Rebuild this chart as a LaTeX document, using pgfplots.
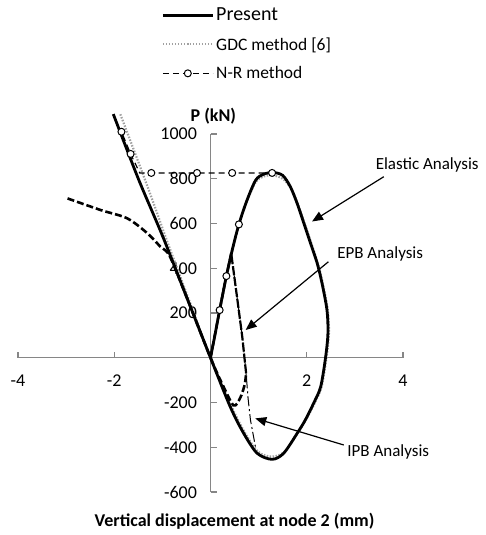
\documentclass[border=0pt]{standalone}
\usepackage{fontspec}
\setmainfont{Carlito}
\usepackage{pgfplots}
\pgfplotsset{compat=1.18}
\usetikzlibrary{arrows.meta}
\definecolor{axgray}{RGB}{134,134,134}
\definecolor{dotgray}{RGB}{160,160,160}
\begin{document}
\begin{tikzpicture}
\begin{axis}[
  scale only axis, width=385pt, height=358pt,
  xmin=-4, xmax=4, ymin=-600, ymax=1000,
  axis lines=middle,
  axis line style={-, draw=axgray, line width=1.2pt},
  xtick={-4,-2,0,2,4}, xticklabels={-4,-2,0,2,4},
  ytick={-600,-400,-200,0,200,400,600,800,1000},
  yticklabels={-600,-400,-200,0,200,400,600,800,1000},
  tick style={draw=axgray, line width=1.2pt},
  tick align=inside,
  major tick length=6pt,
  tick label style={font=\fontsize{18}{20}\selectfont, text=black},
  xticklabel style={yshift=-14pt},
  yticklabel style={xshift=-10pt},
  clip=false,
  legend style={draw=none, fill=none, inner sep=0pt, at={(0.372,1.358)}, anchor=north west,
    font=\fontsize{17.5}{20}\selectfont, row sep=11pt, nodes={inner sep=2pt}},
  legend cell align=left,
  legend image code/.code={\draw[mark repeat=2,mark phase=2,#1] plot coordinates {(0pt,0pt) (25pt,0pt) (50pt,0pt)};},
]
\coordinate (LL) at (rel axis cs:0,0);
\addlegendimage{black, line width=2.8pt}
\addlegendentry{\fontsize{20}{22}\selectfont Present}
\addlegendimage{dotgray, line width=2pt, dash pattern=on 1.5pt off 1.5pt}
\addlegendentry{GDC method [6]}
\addlegendimage{black, line width=1.2pt, dash pattern=on 6pt off 4pt, mark=*, mark size=3.5pt, mark options={solid, fill=white, draw=black, line width=1pt}}
\addlegendentry{N-R method}

% GDC method (dotted gray)
\addplot[forget plot, dotgray, line width=2.2pt, dash pattern=on 1.5pt off 1.5pt, smooth, tension=0.5] coordinates {
(0,0) (0.19,213) (0.33,365) (0.59,596) (0.76,700) (0.94,785) (1.10,810) (1.30,815) (1.50,800) (1.68,755) (1.82,685) (1.96,598) (2.10,508) (2.24,415) (2.34,325) (2.44,210) (2.46,105) (2.41,0) (2.31,-129) (2.17,-200) (1.99,-275) (1.82,-333) (1.55,-418) (1.28,-442) (0.99,-420) (0.71,-333) (0.43,-215) (0,0) (-0.45,260) (-0.9,520) (-1.3,760) (-1.88,1092)
};

% Present (solid)
\addplot[forget plot, black, line width=2.8pt, smooth, tension=0.5] coordinates {
(0,0) (0.10,110) (0.19,213) (0.33,365) (0.45,480) (0.59,596) (0.76,705) (0.94,794) (1.10,820) (1.30,828) (1.50,815) (1.66,764) (1.80,690) (1.94,601) (2.08,511) (2.22,420) (2.32,330) (2.42,213) (2.44,109) (2.39,0) (2.29,-129) (2.15,-200) (1.97,-278) (1.80,-338) (1.52,-427) (1.28,-454) (0.97,-427) (0.69,-338) (0.41,-219) (0,0) (-0.5,273) (-1.0,546) (-1.5,800) (-2.02,1089)
};

% EPB (thick dashed)
\addplot[forget plot, black, line width=2.6pt, dash pattern=on 7pt off 3pt, smooth, tension=0.5] coordinates {
(-2.97,712) (-2.28,660) (-1.73,623) (-1.31,556) (-1.04,496) (-0.85,455) (-0.5,273) (0,0) (0.25,-120) (0.48,-213) (0.62,-178) (0.71,-120) (0.74,-70)
};
\addplot[forget plot, black, line width=2.2pt, dash pattern=on 9pt off 2pt] coordinates {
(0.74,-70) (0.66,94) (0.55,273) (0.43,467)
};
\addplot[forget plot, black, line width=2.4pt, dash pattern=on 7pt off 3pt] coordinates {
(0.43,467) (0.33,365) (0.19,213) (0,0)
};

% IPB (thin dash-dot)
\addplot[forget plot, black, line width=1pt, dash pattern=on 10pt off 3pt on 2pt off 3pt] coordinates {
(0.43,467) (0.55,273) (0.66,94) (0.74,-70) (0.78,-180) (0.83,-278) (0.94,-405)
};

% N-R method line
\addplot[forget plot, black, line width=1.2pt, dash pattern=on 6pt off 4pt] coordinates {
(0,0) (0.19,213) (0.33,365) (0.59,596) (0.76,705) (0.94,794) (1.10,822) (1.28,826) (0.45,826) (-0.28,826) (-1.23,826) (-1.47,826) (-1.66,911) (-1.85,1010)
};
% N-R method markers
\addplot[forget plot, only marks, mark=*, mark size=3.5pt, mark options={solid, fill=white, draw=black, line width=1pt}] coordinates {
(0.19,213) (0.33,365) (0.59,596) (1.28,826) (0.45,826) (-0.28,826) (-1.23,826) (-1.66,911) (-1.85,1010)
};

% annotations
\node[anchor=west, inner sep=0pt, font=\fontsize{17}{20}\selectfont] at (axis cs:3.43,861) {Elastic Analysis};
\node[anchor=west, inner sep=0pt, font=\fontsize{17}{20}\selectfont] at (axis cs:2.63,464) {EPB Analysis};
\node[anchor=west, inner sep=0pt, font=\fontsize{17}{20}\selectfont] at (axis cs:2.84,-420) {IPB Analysis};
\draw[-{Triangle[length=11pt,width=9pt]}, line width=1.2pt] (axis cs:3.60,809) -- (axis cs:2.11,609);
\draw[-{Triangle[length=11pt,width=9pt]}, line width=1.2pt] (axis cs:2.45,429) -- (axis cs:0.73,124);
\draw[-{Triangle[length=11pt,width=9pt]}, line width=1.2pt] (axis cs:2.77,-390) -- (axis cs:0.93,-271);
\node[font=\bfseries\fontsize{18}{20}\selectfont] at (axis cs:0.06,1080) {P (kN)};
\node[font=\bfseries\fontsize{18}{20}\selectfont] at (axis cs:0.50,-730) {Vertical displacement at node 2 (mm)};
\end{axis}
\pgfresetboundingbox
\path[use as bounding box] ([shift={(-18pt,-43pt)}]LL) rectangle ([shift={(468pt,492pt)}]LL);
\end{tikzpicture}
\end{document}
